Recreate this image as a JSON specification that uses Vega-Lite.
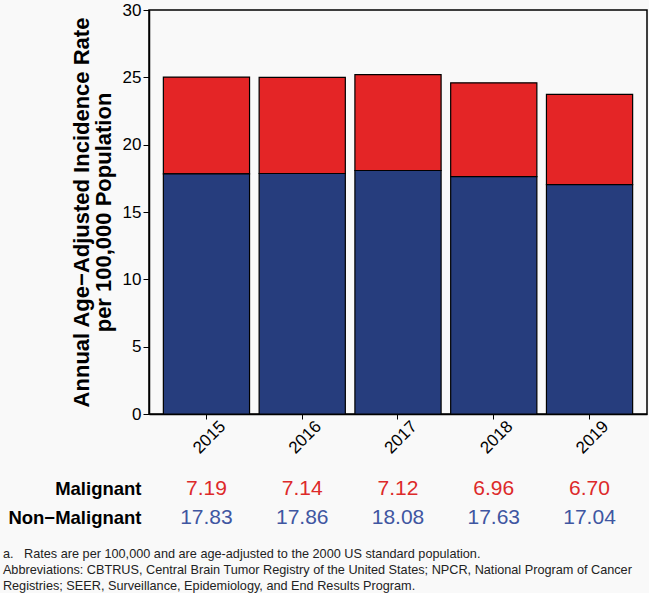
{
  "$schema": "https://vega.github.io/schema/vega-lite/v6.json",
  "background": "#f9f9f9",
  "padding": {"left": 2, "top": 0, "right": 3, "bottom": 0},
  "config": {
    "font": "Liberation Sans",
    "axis": {"grid": false, "domainColor": "#000", "tickColor": "#000", "labelColor": "#000", "titleColor": "#000", "labelFont": "Liberation Sans", "titleFont": "Liberation Sans"},
    "view": {"stroke": "#000", "strokeWidth": 1.5, "fill": "#f9f9f9"}
  },
  "data": {"values": [
    {"year": "2015", "type": "Malignant", "value": 7.19},
    {"year": "2016", "type": "Malignant", "value": 7.14},
    {"year": "2017", "type": "Malignant", "value": 7.12},
    {"year": "2018", "type": "Malignant", "value": 6.96},
    {"year": "2019", "type": "Malignant", "value": 6.70},
    {"year": "2015", "type": "Non−Malignant", "value": 17.83},
    {"year": "2016", "type": "Non−Malignant", "value": 17.86},
    {"year": "2017", "type": "Non−Malignant", "value": 18.08},
    {"year": "2018", "type": "Non−Malignant", "value": 17.63},
    {"year": "2019", "type": "Non−Malignant", "value": 17.04}
  ]},
  "title": {
    "text": [
      "a.\u00a0\u00a0 Rates are per 100,000 and are age-adjusted to the 2000 US standard population.",
      "Abbreviations: CBTRUS, Central Brain Tumor Registry of the United States; NPCR, National Program of Cancer",
      "Registries; SEER, Surveillance, Epidemiology, and End Results Program."
    ],
    "orient": "bottom",
    "anchor": "start",
    "frame": "bounds",
    "fontSize": 12.7,
    "fontWeight": "normal",
    "font": "Liberation Sans",
    "color": "#222222",
    "lineHeight": 16,
    "offset": 16,
    "dx": -5
  },
  "spacing": 17,
  "vconcat": [
    {
      "width": 498,
      "height": 404,
      "mark": {"type": "bar", "stroke": "#000", "strokeWidth": 1.2},
      "encoding": {
        "x": {
          "field": "year", "type": "ordinal",
          "scale": {"paddingInner": 0.1, "paddingOuter": 0.15},
          "axis": {"title": null, "labelAngle": -45, "labelAlign": "center", "labelBaseline": "middle", "labelPadding": 18, "labelOffset": 3, "labelFontSize": 17, "tickSize": 5, "domainWidth": 1.5}
        },
        "y": {
          "field": "value", "type": "quantitative", "stack": "zero",
          "scale": {"domain": [0, 30], "nice": false},
          "axis": {
            "title": ["Annual Age−Adjusted Incidence Rate", "per 100,000 Population"],
            "titleFontSize": 22, "titleFontWeight": "bold", "titleLineHeight": 22, "titlePadding": 7,
            "values": [0, 5, 10, 15, 20, 25, 30],
            "labelFontSize": 17, "tickSize": 6, "labelPadding": 2, "domainWidth": 1.5
          }
        },
        "color": {
          "field": "type", "type": "nominal",
          "scale": {"domain": ["Malignant", "Non−Malignant"], "range": ["#e42526", "#263d7d"]},
          "legend": null
        },
        "order": {"field": "type", "sort": "descending"}
      }
    },
    {
      "width": 498,
      "height": 58,
      "view": {"stroke": null},
      "mark": {"type": "text", "fontSize": 21},
      "encoding": {
        "x": {"field": "year", "type": "ordinal", "axis": null},
        "y": {
          "field": "type", "type": "nominal", "sort": ["Malignant", "Non−Malignant"],
          "axis": {"title": null, "domain": false, "ticks": false, "labelFontSize": 18.5, "labelFontWeight": "bold", "labelPadding": 8}
        },
        "text": {"field": "value", "type": "quantitative", "format": ".2f"},
        "color": {
          "field": "type", "type": "nominal",
          "scale": {"domain": ["Malignant", "Non−Malignant"], "range": ["#dd2a2a", "#3f56a1"]},
          "legend": null
        }
      }
    }
  ],
  "resolve": {"scale": {"x": "shared", "color": "independent"}}
}
